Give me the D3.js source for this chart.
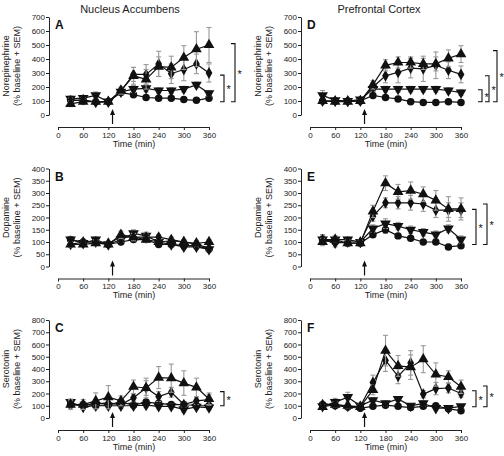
<!DOCTYPE html>
<html><head><meta charset="utf-8">
<script src="https://cdn.jsdelivr.net/npm/d3@7"></script>
<style>body{margin:0;background:#fff}svg{display:block}text{font-family:"Liberation Sans",Arial,sans-serif}</style>
</head><body><svg id="c" width="504" height="456"></svg>
<script>
const times = [30,60,90,120,150,180,210,240,270,300,330,360];
const xTicks = [0,60,120,180,240,300,360];
const injectionTime = 130;
const regionTitles = ["Nucleus  Accumbens","Prefrontal Cortex"];
const rowLabels = ["Norepinephrine","Dopamine","Serotonin"];
const rowSubLabel = "(% baseline + SEM)";
const yMaxes = [700,400,800];
const yStep = [100,50,100];
const letters = [["A","B","C"],["D","E","F"]];
const seriesShapes = ["circle","invtri","diamond","triangle"];

// Panel A: NAc norepinephrine
const A_circle   = [110,100,95,95,160,145,125,120,120,110,105,120];
const A_circleE  = [15,10,10,10,15,15,10,10,10,10,10,10];
const A_invtri   = [115,120,140,95,165,185,190,175,175,185,215,155];
const A_invtriE  = [20,15,25,10,20,25,25,20,20,20,20,20];
const A_diamond  = [100,110,90,95,170,290,290,365,295,325,365,300];
const A_diamondE = [20,15,10,10,20,50,70,90,70,80,70,65];
const A_triangle = [80,95,95,95,175,280,255,345,340,410,470,500];
const A_triangleE= [20,15,10,10,25,60,70,70,80,85,125,125];
// Panel B: NAc dopamine
const B_circle   = [110,100,100,90,100,110,110,90,90,85,85,70];
const B_circleE  = [10,8,8,8,8,10,10,8,8,8,8,8];
const B_invtri   = [110,95,110,90,110,135,125,100,90,80,80,70];
const B_invtriE  = [10,8,10,8,10,15,15,10,10,10,10,8];
const B_diamond  = [90,100,100,95,120,120,120,120,110,100,90,75];
const B_diamondE = [10,8,10,8,10,10,12,10,10,10,10,8];
const B_triangle = [90,90,95,90,130,120,110,100,105,100,95,100];
const B_triangleE= [10,8,10,8,15,15,12,10,10,10,10,10];
// Panel C: NAc serotonin
const C_circle   = [110,110,100,110,130,105,130,120,110,110,100,100];
const C_circleE  = [15,15,15,15,15,15,15,15,15,15,15,15];
const C_invtri   = [130,90,100,100,100,100,105,95,95,70,90,85];
const C_invtriE  = [25,20,20,20,20,20,20,20,20,20,20,20];
const C_diamond  = [110,100,120,120,110,165,245,175,210,110,140,150];
const C_diamondE = [30,30,20,20,20,30,60,40,40,20,30,40];
const C_triangle = [110,110,140,170,140,255,245,330,325,285,250,155];
const C_triangleE= [40,40,65,95,40,55,80,90,115,100,75,50];
// Panel D: PFC norepinephrine
const D_circle   = [100,100,100,100,140,125,115,95,90,90,95,90];
const D_circleE  = [10,10,10,10,15,10,10,10,10,10,10,10];
const D_invtri   = [140,105,100,110,185,185,185,185,185,185,175,160];
const D_invtriE  = [35,15,10,15,20,20,20,20,20,20,20,20];
const D_diamond  = [100,100,100,100,200,280,305,335,330,355,320,290];
const D_diamondE = [10,10,10,10,30,50,75,70,90,95,60,60];
const D_triangle = [100,95,95,100,215,355,375,375,365,365,405,435];
const D_triangleE= [10,10,10,10,30,40,40,40,40,50,60,60];
// Panel E: PFC dopamine
const E_circle   = [110,100,95,95,130,150,125,115,100,100,80,85];
const E_circleE  = [15,10,10,10,10,15,10,10,10,10,10,10];
const E_invtri   = [110,110,110,100,155,175,165,150,140,130,155,110];
const E_invtriE  = [20,15,10,10,15,20,15,15,15,15,15,15];
const E_diamond  = [110,95,100,100,205,260,260,260,255,230,230,230];
const E_diamondE = [20,15,10,10,20,20,25,30,30,30,30,30];
const E_triangle = [100,110,95,95,225,340,305,310,295,270,235,235];
const E_triangleE= [15,10,10,10,25,30,30,35,30,40,50,45];
// Panel F: PFC serotonin
const F_circle   = [110,100,90,80,95,105,95,85,95,100,75,60];
const F_circleE  = [10,10,10,10,10,10,10,10,10,10,10,10];
const F_invtri   = [95,130,170,100,145,120,155,100,120,80,80,95];
const F_invtriE  = [20,30,40,20,20,20,20,15,20,15,15,15];
const F_diamond  = [110,110,95,95,290,470,340,450,195,240,245,200];
const F_diamondE = [20,20,20,20,60,90,60,100,30,50,40,30];
const F_triangle = [90,110,100,90,230,550,425,415,480,355,335,255];
const F_triangleE= [20,20,20,20,40,125,85,100,110,95,50,55];

// significance brackets: [lowValue, highValue]
const A_brackets = [[95,285],[95,510]];
const B_brackets = [];
const C_brackets = [[100,215]];
const D_brackets = [[95,180],[95,280],[95,460]];
const E_brackets = [[90,233],[90,255]];
const F_brackets = [[92,223],[92,261]];

const panels = [
  {col:0,row:0,s:[[A_circle,A_circleE],[A_invtri,A_invtriE],[A_diamond,A_diamondE],[A_triangle,A_triangleE]],br:A_brackets},
  {col:0,row:1,s:[[B_circle,B_circleE],[B_invtri,B_invtriE],[B_diamond,B_diamondE],[B_triangle,B_triangleE]],br:B_brackets},
  {col:0,row:2,s:[[C_circle,C_circleE],[C_invtri,C_invtriE],[C_diamond,C_diamondE],[C_triangle,C_triangleE]],br:C_brackets},
  {col:1,row:0,s:[[D_circle,D_circleE],[D_invtri,D_invtriE],[D_diamond,D_diamondE],[D_triangle,D_triangleE]],br:D_brackets},
  {col:1,row:1,s:[[E_circle,E_circleE],[E_invtri,E_invtriE],[E_diamond,E_diamondE],[E_triangle,E_triangleE]],br:E_brackets},
  {col:1,row:2,s:[[F_circle,F_circleE],[F_invtri,F_invtriE],[F_diamond,F_diamondE],[F_triangle,F_triangleE]],br:F_brackets}
];

const svg = d3.select("#c");
const colW = 252, rowH = 151.5;
const symbolFor = {
  circle: d3.symbol().type(d3.symbolCircle).size(44)(),
  triangle: d3.symbol().type(d3.symbolTriangle).size(50)(),
  invtri: d3.symbol().type(d3.symbolTriangle).size(50)(),
  diamond: d3.symbol().type(d3.symbolDiamond).size(40)()
};

regionTitles.forEach((t,i)=>{
  svg.append("text").attr("x", 130 + i*colW - (i?3:0)).attr("y", 13)
    .attr("text-anchor","middle").attr("font-size", 11).attr("fill","#222").text(t);
});

const bracketX = [[224,235],[224,235]];
const bracketXD = [230,237,245];

panels.forEach(p=>{
  const ox = p.col*colW, oy = p.row*rowH;
  const x = d3.scaleLinear().domain([0,360]).range([ox+58, ox+209]);
  const y = d3.scaleLinear().domain([0,yMaxes[p.row]]).range([oy+115, oy+17]);
  const axisY = oy+127;
  const g = svg.append("g");

  const yTicks = d3.range(0, yMaxes[p.row]+1, yStep[p.row]);
  const ya = g.append("g").attr("transform",`translate(${ox+49},0)`)
    .call(d3.axisLeft(y).tickValues(yTicks).tickSize(3).tickPadding(1).tickSizeOuter(0));
  const xa = g.append("g").attr("transform",`translate(0,${axisY})`)
    .call(d3.axisBottom(x).tickValues(xTicks).tickSize(3).tickPadding(2).tickSizeOuter(0));
  [ya,xa].forEach(a=>{
    a.select(".domain").attr("stroke","#222").attr("stroke-width",1);
    a.selectAll(".tick line").attr("stroke","#222");
    a.selectAll("text").attr("font-size",8).attr("fill","#222").attr("font-family","Liberation Sans,Arial,sans-serif");
  });
  g.append("text").attr("x", ox+134).attr("y", axisY+19.5).attr("text-anchor","middle")
    .attr("font-size",9).attr("fill","#222").text("Time (min)");
  const cy = oy+66;
  g.append("text").attr("transform",`translate(${ox+9},${cy}) rotate(-90)`).attr("text-anchor","middle")
    .attr("font-size",9).attr("fill","#222").text(rowLabels[p.row]);
  g.append("text").attr("transform",`translate(${ox+20},${cy}) rotate(-90)`).attr("text-anchor","middle")
    .attr("font-size",9).attr("fill","#222").text(rowSubLabel);
  g.append("text").attr("x", ox+55).attr("y", oy+29).attr("font-size",12).attr("font-weight","bold")
    .attr("fill","#111").text(letters[p.col][p.row]);

  const ax = x(injectionTime);
  g.append("line").attr("x1",ax).attr("x2",ax).attr("y1",oy+111).attr("y2",axisY-3)
    .attr("stroke","#111").attr("stroke-width",1.2);
  g.append("path").attr("d",`M${ax},${oy+109}L${ax-2.5},${oy+115}L${ax+2.5},${oy+115}Z`).attr("fill","#111");

  p.s.forEach(([vals,errs],si)=>{
    const shape = seriesShapes[si];
    const sg = g.append("g");
    vals.forEach((v,i)=>{
      const xx = x(times[i]);
      const lo = y(v-errs[i]), hi = y(v+errs[i]);
      sg.append("line").attr("x1",xx).attr("x2",xx).attr("y1",lo).attr("y2",hi).attr("stroke","#999").attr("stroke-width",1.1);
      [lo,hi].forEach(yy=>sg.append("line").attr("x1",xx-2.5).attr("x2",xx+2.5).attr("y1",yy).attr("y2",yy).attr("stroke","#999").attr("stroke-width",1.1));
    });
    const line = d3.line().x((d,i)=>x(times[i])).y(d=>y(d));
    sg.append("path").attr("d",line(vals)).attr("fill","none").attr("stroke","#111").attr("stroke-width",1.2);
    vals.forEach((v,i)=>{
      sg.append("path").attr("d",symbolFor[shape])
        .attr("transform",`translate(${x(times[i])},${y(v)})${shape==="invtri"?" rotate(180)":""}`)
        .attr("fill","#111");
    });
  });

  const bxs = p.br.length===3 ? bracketXD : bracketX[p.col];
  p.br.forEach((b,bi)=>{
    const bx = ox + bxs[bi];
    const y1 = y(b[0]), y2 = y(b[1]);
    g.append("path").attr("d",`M${bx-4},${y2}H${bx}V${y1}H${bx-4}`).attr("fill","none").attr("stroke","#111").attr("stroke-width",1.1);
    g.append("text").attr("x",bx+2.5).attr("y",(y1+y2)/2+5).attr("font-size",11).attr("fill","#111").text("*");
  });
});
</script></body></html>
